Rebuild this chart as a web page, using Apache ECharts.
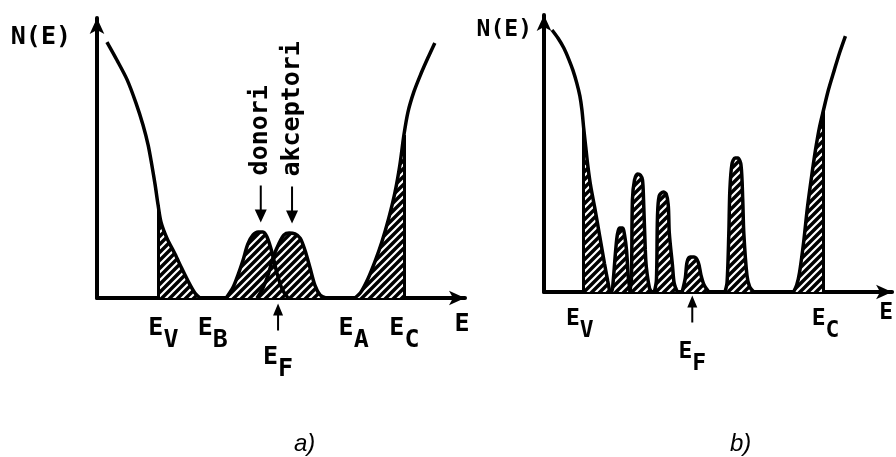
<!DOCTYPE html>
<html lang="sr">
<head>
<meta charset="UTF-8">
<title>N(E) - gustina stanja</title>
<script src="https://cdn.jsdelivr.net/npm/echarts@6/dist/echarts.min.js"></script>
<style>html,body{margin:0;padding:0;background:#fff;}</style>
</head>
<body>
<div id="main" style="width:896px;height:457px;"></div>
<script type="text/javascript">
// E i N(E) su u proizvoljnim jedinicama, obe ose 0..10

// a) valentna zona, repovi, donori i akceptori, provodna zona
var valenceA = [[0.27,9.14],[0.54,8.5],[0.82,7.79],[1.06,6.96],[1.25,6.18],[1.39,5.46],[1.49,4.75],[1.58,4.04],[1.66,3.32],[1.74,2.71],[1.90,2.14],[2.12,1.57],[2.31,1.04],[2.50,0.54],[2.66,0.18],[2.80,0]];
var donorA = [[3.51,0],[3.70,0.39],[3.83,0.82],[3.97,1.36],[4.10,1.93],[4.24,2.25],[4.38,2.36],[4.51,2.36],[4.62,2.18],[4.76,1.61],[4.89,0.89],[5.03,0.32],[5.19,0]];
var acceptorA = [[4.35,0],[4.51,0.36],[4.65,0.82],[4.78,1.43],[4.95,1.96],[5.08,2.25],[5.22,2.32],[5.38,2.29],[5.52,2.14],[5.65,1.71],[5.79,1.07],[5.92,0.46],[6.06,0.11],[6.22,0]];
var conductionA = [[7.01,0],[7.17,0.21],[7.36,0.68],[7.55,1.29],[7.74,2.0],[7.93,2.86],[8.10,3.79],[8.23,4.75],[8.34,5.82],[8.45,6.64],[8.61,7.36],[8.80,8.0],[8.99,8.57],[9.18,9.11]];
var hatchA = [[1.66,2.80],[7.01,8.34]];
var ticksA = [1.60,2.94,6.77,8.15];
var subsA = ['V','B','A','C'];
var fermiA = 4.92;
var donorTopA = [4.45,2.36];
var acceptorTopA = [5.30,2.32];

// b) valentna zona, lokalizovana stanja, provodna zona
var valenceB = [[0.23,9.46],[0.40,9.17],[0.57,8.81],[0.71,8.41],[0.83,8.01],[0.94,7.55],[1.03,7.08],[1.09,6.57],[1.14,5.92],[1.20,5.23],[1.26,4.55],[1.34,3.83],[1.46,3.03],[1.60,2.02],[1.74,1.01],[1.83,0.40],[1.89,0]];
var peaksB = [
    [[1.94,0],[1.97,0.14],[2.06,1.52],[2.11,2.09],[2.17,2.31],[2.26,2.31],[2.31,2.09],[2.37,1.52],[2.43,0.43],[2.49,0]],
    [[2.46,0],[2.51,0.43],[2.54,3.32],[2.60,4.04],[2.69,4.26],[2.77,4.22],[2.83,4.04],[2.86,3.32],[2.91,1.52],[2.94,0.90],[3.03,0.14],[3.09,0]],
    [[3.17,0],[3.23,0.43],[3.26,2.71],[3.31,3.47],[3.43,3.61],[3.51,3.54],[3.57,3.14],[3.60,2.13],[3.69,0.97],[3.74,0.32],[3.83,0]],
    [[3.97,0],[4.06,0.51],[4.11,1.08],[4.20,1.26],[4.31,1.26],[4.43,1.08],[4.51,0.61],[4.60,0.25],[4.74,0]],
    [[5.20,0],[5.26,0.36],[5.31,2.13],[5.34,3.68],[5.40,4.62],[5.49,4.84],[5.57,4.84],[5.66,4.58],[5.71,3.32],[5.74,2.13],[5.83,0.61],[5.91,0.18],[6.03,0]]
];
var conductionB = [[7.17,0],[7.26,0.25],[7.34,0.69],[7.46,1.81],[7.57,3.07],[7.69,4.19],[7.80,5.13],[7.91,5.92],[8.03,6.57],[8.17,7.29],[8.34,8.01],[8.49,8.63],[8.66,9.24]];
var hatchB = [[1.14,1.89],[7.17,8.03]];
var ticksB = [0.83,7.89];
var subsB = ['V','C'];
var fermiB = 4.26;

var FONT = 'DejaVu Sans Mono';
var chart = echarts.init(document.getElementById('main'));

// srafura: crno polje sa belim kosim crtama
var pat = document.createElement('canvas');
pat.width = 8; pat.height = 8;
var pc = pat.getContext('2d');
pc.fillStyle = '#000'; pc.fillRect(0, 0, 8, 8);
pc.strokeStyle = '#fff'; pc.lineWidth = 2.2;
pc.beginPath();
pc.moveTo(-2, 10); pc.lineTo(10, -2);
pc.moveTo(-2, 2); pc.lineTo(2, -2);
pc.moveTo(6, 10); pc.lineTo(10, 6);
pc.stroke();
var hatchFill = {image: pat, repeat: 'repeat'};

var DOWN = 'path://M4,0L6,0L6,24L11,24L5,37L-1,24L4,24Z';
var UP = 'path://M5,0L10,12L6,12L6,27L4,27L4,12L0,12Z';

function richFor(fs) {
    return {
        sp: {width: fs * 0.6, fontFamily: FONT, fontSize: fs},
        e: {fontFamily: FONT, fontSize: fs, fontWeight: 'bold', color: '#000', padding: [0, 0, 12, 0]},
        s: {fontFamily: FONT, fontSize: fs, fontWeight: 'bold', color: '#000', padding: [12, 0, 0, 0]}
    };
}

function nearest(arr, v) {
    var best = 0;
    for (var i = 1; i < arr.length; i++) {
        if (Math.abs(arr[i] - v) < Math.abs(arr[best] - v)) best = i;
    }
    return best;
}

function xAxisFor(gi, ticks, subs, fs, margin, nameGap, namePad) {
    return {
        type: 'value', gridIndex: gi, min: 0, max: 10,
        axisLine: {show: true, onZero: false, symbol: ['none', 'arrow'], symbolSize: [11, 16],
            lineStyle: {color: '#000', width: 4}},
        axisTick: {show: false},
        splitLine: {show: false},
        axisLabel: {
            show: true, customValues: ticks, margin: margin,
            formatter: function (v) {
                return '{sp| }{e|E}{s|' + subs[nearest(ticks, v)] + '}';
            },
            rich: richFor(fs)
        },
        name: 'E', nameLocation: 'end', nameGap: nameGap,
        nameTextStyle: {fontFamily: FONT, fontSize: fs, fontWeight: 'bold', color: '#000', align: 'center',
            verticalAlign: 'top', padding: [namePad, 0, 0, 0]}
    };
}

function yAxisFor(gi, fs, nameGap, padRight) {
    return {
        type: 'value', gridIndex: gi, min: 0, max: 10,
        axisLine: {show: true, onZero: false, symbol: ['none', 'arrow'], symbolSize: [11, 16],
            lineStyle: {color: '#000', width: 4}},
        axisTick: {show: false}, axisLabel: {show: false}, splitLine: {show: false},
        name: 'N(E)', nameLocation: 'end', nameGap: nameGap,
        nameTextStyle: {fontFamily: FONT, fontSize: fs, fontWeight: 'bold', color: '#000', align: 'right',
            verticalAlign: 'middle', padding: [0, padRight, 0, 0]}
    };
}

function curve(gi, data, filled) {
    return {
        type: 'line', xAxisIndex: gi, yAxisIndex: gi, data: data,
        smooth: 0.3, showSymbol: false, silent: true, z: 3,
        lineStyle: {color: '#000', width: 3.5},
        areaStyle: filled ? {color: hatchFill, opacity: 1} : null
    };
}

function band(gi, data, range) {
    var part = data.filter(function (p) { return p[0] >= range[0] && p[0] <= range[1]; });
    var first = part[0], last = part[part.length - 1];
    return {
        type: 'line', xAxisIndex: gi, yAxisIndex: gi, data: part,
        smooth: 0.3, showSymbol: false, silent: true, z: 2,
        lineStyle: {width: 0},
        areaStyle: {color: hatchFill, opacity: 1},
        markLine: {
            silent: true, symbol: ['none', 'none'], label: {show: false},
            lineStyle: {color: '#000', width: 3, type: 'solid'},
            data: [
                [{coord: [first[0], 0]}, {coord: [first[0], first[1]]}],
                [{coord: [last[0], 0]}, {coord: [last[0], last[1]]}]
            ]
        }
    };
}

function fermiMark(x, fs, offset, dist) {
    return {
        coord: [x, 0], symbol: UP, symbolSize: [10, 27], symbolOffset: [0, offset],
        itemStyle: {color: '#000'},
        label: {show: true, position: 'bottom', distance: dist, formatter: '{e|E}{s|F}', rich: richFor(fs)}
    };
}

function impurityMark(top, text, fs) {
    return {
        coord: top, name: text, symbol: DOWN, symbolSize: [12, 37], symbolOffset: [0, -28],
        itemStyle: {color: '#000'},
        label: {show: true, position: 'top', distance: 10, rotate: 90, align: 'left', verticalAlign: 'middle',
            formatter: '{b}', fontFamily: FONT, fontSize: fs, fontWeight: 'bold', color: '#000'}
    };
}

var series = [
    band(0, valenceA, hatchA[0]),
    band(0, conductionA, hatchA[1]),
    curve(0, valenceA, false),
    curve(0, conductionA, false),
    curve(0, donorA, true),
    curve(0, acceptorA, true),
    band(1, valenceB, hatchB[0]),
    band(1, conductionB, hatchB[1]),
    curve(1, valenceB, false),
    curve(1, conductionB, false)
];
peaksB.forEach(function (p) { series.push(curve(1, p, true)); });

// strelice za donore, akceptore i Fermijev nivo
series[4].markPoint = {silent: true, data: [
    impurityMark(donorTopA, 'donori', 25),
    impurityMark(acceptorTopA, 'akceptori', 25),
    fermiMark(fermiA, 25, 19, 14)
]};
series[8].markPoint = {silent: true, data: [fermiMark(fermiB, 23, 17, 18)]};

var option = {
    animation: false,
    backgroundColor: '#fff',
    title: [
        {text: 'a)', left: 289, top: 427,
            textStyle: {fontFamily: 'Liberation Sans', fontStyle: 'italic', fontWeight: 'normal', fontSize: 24, color: '#000'}},
        {text: 'b)', left: 725, top: 427,
            textStyle: {fontFamily: 'Liberation Sans', fontStyle: 'italic', fontWeight: 'normal', fontSize: 24, color: '#000'}}
    ],
    grid: [
        {left: 97, top: 18, width: 368, height: 280},
        {left: 544, top: 15, width: 350, height: 277}
    ],
    xAxis: [
        xAxisFor(0, ticksA, subsA, 25, 18, -3, 14),
        xAxisFor(1, ticksB, subsB, 23, 16, -6, 10)
    ],
    yAxis: [
        yAxisFor(0, 25, -19, 26),
        yAxisFor(1, 23, -15, 12)
    ],
    series: series
};
chart.setOption(option);
</script>
</body>
</html>
